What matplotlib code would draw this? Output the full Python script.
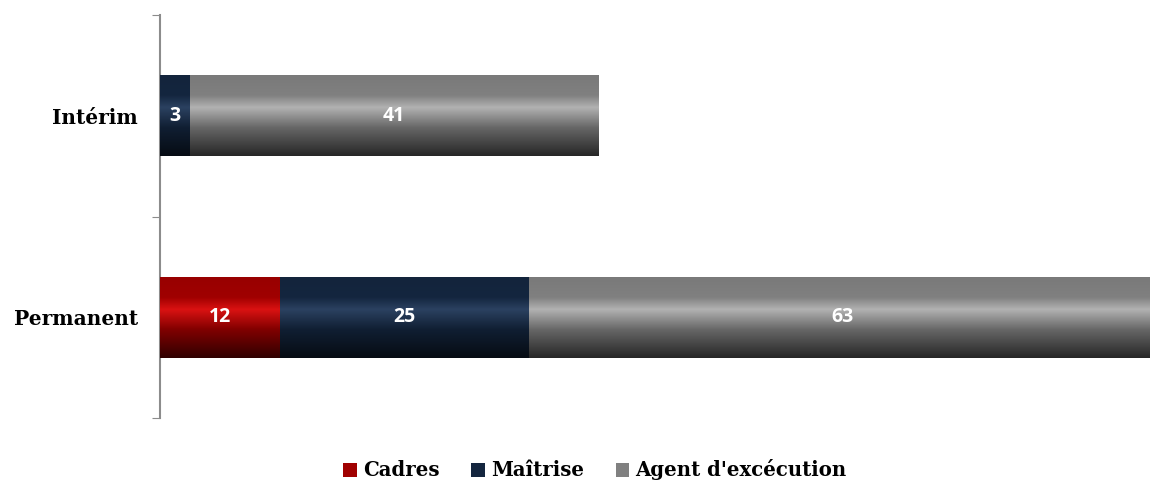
import numpy as np
import matplotlib.pyplot as plt
from matplotlib.colors import to_rgb, LinearSegmentedColormap
from matplotlib.patches import Patch

# Données
categories = ['Permanent', 'Intérim']
series = ['Cadres', 'Maîtrise', "Agent d'excécution"]
cadres = [12, 0]
maitrise = [25, 3]
agents = [63, 41]
couleurs = ['#a00000', '#14263f', '#808080']

valeurs = [cadres, maitrise, agents]

fig = plt.figure(figsize=(11.5, 4.83), dpi=100)
ax = fig.add_axes([160 / 1150, 1 - 418 / 483, 990 / 1150, (418 - 15) / 483])

y = np.arange(len(categories))
hauteur = 0.4
gauche = np.zeros(len(categories))


def degrade(c):
    base = np.array(to_rgb(c))
    clair = np.clip(base * 1.25 + 0.07, 0, 1)
    sombre = base * 0.3
    # du bas vers le haut
    return LinearSegmentedColormap.from_list(
        'g', [(0, sombre), (0.35, base * 0.8), (0.6, clair), (0.75, base), (1, base * 0.95)])


for vals, nom, c in zip(valeurs, series, couleurs):
    bars = ax.barh(y, vals, left=gauche, height=hauteur, color=c, label=nom,
                   edgecolor='none', zorder=2)
    cmap = degrade(c)
    grad = np.linspace(0, 1, 256).reshape(-1, 1)
    for b, v in zip(bars, vals):
        if v == 0:
            continue
        x0, y0 = b.get_x(), b.get_y()
        im = ax.imshow(grad, cmap=cmap, aspect='auto', origin='lower',
                       extent=[x0, x0 + b.get_width(), y0, y0 + b.get_height()],
                       zorder=3, interpolation='bilinear')
        im.set_clip_path(b)
        ax.text(x0 + v / 2, y0 + b.get_height() / 2, str(v), ha='center', va='center',
                color='white', fontsize=14, fontweight='bold',
                family='Open Sans', zorder=4)
    gauche += np.array(vals)

ax.set_xlim(0, 99.4)
ax.set_ylim(-0.5, 1.5)

ax.set_yticks([-0.5, 0.5, 1.5])
ax.set_yticklabels([])
ax.set_yticks(y, minor=True)
ax.set_yticklabels(categories, minor=True, fontsize=14.5, fontweight='bold',
                   family='DejaVu Serif')
ax.tick_params(axis='y', which='major', length=6, color='#8c8c8c', direction='out')
ax.tick_params(axis='y', which='minor', length=0, pad=16)
ax.set_xticks([])

for s in ['top', 'right', 'bottom']:
    ax.spines[s].set_visible(False)
ax.spines['left'].set_color('#8c8c8c')
ax.spines['left'].set_linewidth(1.5)

handles = [Patch(facecolor=c, label=n) for c, n in zip(couleurs, series)]
fig.legend(handles=handles, loc='center', bbox_to_anchor=(595 / 1150, 1 - 470 / 483), ncol=3,
           frameon=False, handlelength=0.7, handleheight=0.7, handletextpad=0.3,
           columnspacing=1.6, prop={'family': 'DejaVu Serif', 'weight': 'bold', 'size': 14.2})

fig.savefig('out.png', dpi=100, facecolor='white')
